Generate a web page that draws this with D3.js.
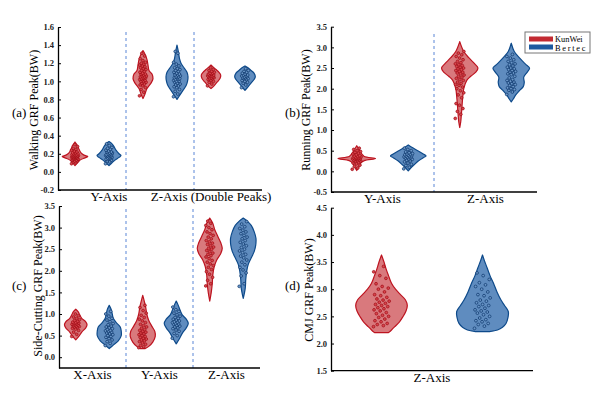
<!DOCTYPE html>
<html>
<head>
<meta charset="utf-8">
<script src="https://cdn.jsdelivr.net/npm/d3@7"></script>
<style>
  body { margin: 0; background: #fff; }
  svg { display: block; font-family: "Liberation Serif", "Times New Roman", serif; }
</style>
</head>
<body>
<div id="chart"></div>
<script>
/// DATA : violin outlines are [value, relative density], points are peak values (BW)
const seriesNames = ['KunWei', 'Bertec'];

// (a) walking
const walkTicks = [-0.2, 0, 0.2, 0.4, 0.6, 0.8, 1.0, 1.2, 1.4, 1.6];
const walkGroups = ['Y-Axis', 'Z-Axis (Double Peaks)'];
const walkRedYShape = [[0.07,0],[0.10,0.25],[0.13,0.5],[0.155,1.0],[0.17,1.28],[0.185,0.9],[0.21,0.6],[0.25,0.4],[0.29,0.25],[0.33,0]];
const walkBlueYShape = [[0.07,0],[0.10,0.3],[0.13,0.6],[0.16,1.0],[0.18,1.2],[0.20,1.0],[0.24,0.7],[0.28,0.5],[0.31,0.3],[0.335,0]];
const walkRedZ1Shape = [[0.81,0],[0.86,0.2],[0.92,0.4],[0.98,0.8],[1.03,1.0],[1.08,0.9],[1.12,0.6],[1.18,0.5],[1.24,0.4],[1.30,0.2],[1.34,0]];
const walkBlueZ1Shape = [[0.80,0],[0.85,0.3],[0.90,0.6],[0.95,0.9],[1.00,1.05],[1.05,1.1],[1.10,1.0],[1.15,0.7],[1.20,0.4],[1.25,0.25],[1.32,0.15],[1.40,0]];
const walkRedZ2Shape = [[0.92,0],[0.95,0.3],[0.99,0.6],[1.03,0.9],[1.07,0.97],[1.10,0.8],[1.13,0.5],[1.16,0.2],[1.18,0]];
const walkBlueZ2Shape = [[0.90,0],[0.94,0.3],[0.98,0.6],[1.02,0.9],[1.05,1.03],[1.09,0.9],[1.12,0.6],[1.15,0.3],[1.17,0]];
const walkRedY = [0.09,0.10,0.11,0.12,0.12,0.13,0.13,0.14,0.14,0.15,0.15,0.15,0.16,0.16,0.16,0.16,0.17,0.17,0.17,0.17,0.17,0.18,0.18,0.18,0.18,0.19,0.19,0.19,0.20,0.20,0.21,0.21,0.22,0.23,0.24,0.25,0.26,0.28,0.30];
const walkBlueY = [0.09,0.11,0.12,0.13,0.14,0.14,0.15,0.15,0.16,0.16,0.17,0.17,0.17,0.18,0.18,0.18,0.19,0.19,0.19,0.20,0.20,0.21,0.21,0.22,0.22,0.23,0.24,0.25,0.26,0.27,0.29,0.31];
const walkRedZ1 = [0.84,0.88,0.91,0.93,0.95,0.96,0.97,0.98,0.99,1.00,1.00,1.01,1.02,1.02,1.03,1.03,1.04,1.04,1.05,1.05,1.06,1.06,1.07,1.08,1.08,1.09,1.10,1.11,1.12,1.13,1.14,1.15,1.16,1.17,1.18,1.19,1.20,1.21,1.23,1.25,1.28,1.31];
const walkBlueZ1 = [0.83,0.86,0.89,0.91,0.93,0.94,0.95,0.96,0.97,0.98,0.99,1.00,1.00,1.01,1.02,1.02,1.03,1.04,1.04,1.05,1.05,1.06,1.07,1.07,1.08,1.09,1.10,1.11,1.12,1.13,1.14,1.15,1.17,1.19,1.21,1.31,1.33];
const walkRedZ2 = [0.95,0.97,0.99,1.00,1.01,1.02,1.03,1.03,1.04,1.04,1.05,1.05,1.06,1.06,1.06,1.07,1.07,1.08,1.08,1.09,1.09,1.10,1.11,1.12,1.13,1.15];
const walkBlueZ2 = [0.93,0.96,0.98,0.99,1.00,1.01,1.02,1.03,1.03,1.04,1.04,1.05,1.05,1.06,1.06,1.07,1.07,1.08,1.09,1.10,1.11,1.12,1.14];

// (b) running
const runTicks = [-0.5, 0, 0.5, 1.0, 1.5, 2.0, 2.5, 3.0, 3.5];
const runGroups = ['Y-Axis', 'Z-Axis'];
const runRedYShape = [[0.02,0],[0.1,0.2],[0.2,0.4],[0.26,0.75],[0.31,1.88],[0.36,0.75],[0.42,0.5],[0.5,0.3],[0.62,0]];
const runBlueYShape = [[0.01,0],[0.08,0.25],[0.15,0.55],[0.25,1.0],[0.33,1.5],[0.37,1.78],[0.42,1.5],[0.5,0.95],[0.57,0.45],[0.64,0]];
const runRedZShape = [[1.06,0],[1.2,0.1],[1.5,0.2],[1.8,0.3],[2.0,0.4],[2.2,0.7],[2.3,1.1],[2.4,1.6],[2.5,1.82],[2.6,1.5],[2.75,0.9],[2.9,0.4],[3.14,0]];
const runBlueZShape = [[1.68,0],[1.75,0.2],[1.85,0.45],[1.95,0.8],[2.05,1.2],[2.15,1.3],[2.28,1.25],[2.4,1.6],[2.5,1.83],[2.6,1.4],[2.75,0.8],[2.9,0.3],[3.10,0]];
const runRedY = [0.05,0.08,0.12,0.15,0.18,0.2,0.22,0.24,0.25,0.26,0.27,0.28,0.29,0.3,0.3,0.31,0.31,0.32,0.33,0.33,0.34,0.35,0.36,0.37,0.38,0.4,0.42,0.44,0.46,0.48,0.5,0.53,0.56];
const runBlueY = [0.06,0.1,0.14,0.17,0.2,0.23,0.25,0.27,0.29,0.3,0.32,0.33,0.34,0.35,0.36,0.37,0.38,0.39,0.4,0.41,0.42,0.43,0.45,0.47,0.5,0.53,0.56];
const runRedZ = [1.28,1.38,1.45,1.52,1.6,1.64,1.78,1.85,1.9,1.95,2.0,2.04,2.08,2.1,2.13,2.16,2.2,2.22,2.25,2.28,2.3,2.33,2.36,2.38,2.4,2.42,2.44,2.46,2.48,2.5,2.52,2.54,2.56,2.58,2.6,2.63,2.66,2.7,2.74,2.78,2.82,2.86,2.9];
const runBlueZ = [1.86,1.92,1.96,1.98,2.0,2.02,2.05,2.08,2.1,2.12,2.14,2.16,2.18,2.2,2.22,2.26,2.3,2.34,2.36,2.38,2.4,2.42,2.44,2.46,2.48,2.5,2.52,2.55,2.58,2.6,2.63,2.66,2.7,2.74,2.78,2.83];

// (c) side-cutting
const cutTicks = [0, 0.5, 1.0, 1.5, 2.0, 2.5, 3.0, 3.5];
const cutGroups = ['X-Axis', 'Y-Axis', 'Z-Axis'];
const cutRedXShape = [[0.40,0],[0.48,0.3],[0.58,0.6],[0.68,1.0],[0.75,1.13],[0.82,1.0],[0.9,0.6],[0.98,0.4],[1.05,0.25],[1.11,0]];
const cutBlueXShape = [[0.2,0],[0.28,0.4],[0.38,0.9],[0.5,1.2],[0.6,1.2],[0.7,1.1],[0.8,0.7],[0.9,0.4],[1.0,0.3],[1.1,0.2],[1.2,0]];
const cutRedYShape = [[0.2,0.25],[0.25,0.6],[0.35,1.0],[0.48,1.25],[0.6,1.2],[0.72,0.9],[0.85,0.6],[1.0,0.4],[1.15,0.3],[1.3,0.15],[1.43,0]];
const cutBlueYShape = [[0.31,0],[0.42,0.3],[0.55,0.6],[0.68,1.0],[0.78,1.2],[0.88,1.0],[0.98,0.6],[1.08,0.4],[1.2,0.2],[1.3,0]];
const cutRedZShape = [[1.3,0],[1.5,0.15],[1.7,0.25],[1.9,0.3],[2.1,0.45],[2.25,0.7],[2.4,1.1],[2.52,1.25],[2.65,1.1],[2.8,0.8],[2.95,0.5],[3.1,0.3],[3.22,0]];
const cutBlueZShape = [[1.36,0],[1.6,0.2],[1.8,0.25],[2.0,0.35],[2.15,0.5],[2.3,0.8],[2.45,1.1],[2.6,1.25],[2.75,1.27],[2.9,1.1],[3.05,0.8],[3.15,0.4],[3.22,0]];
const cutRedX = [0.48,0.53,0.58,0.62,0.65,0.67,0.69,0.7,0.71,0.72,0.73,0.74,0.75,0.76,0.77,0.78,0.79,0.8,0.81,0.83,0.85,0.87,0.9,0.93,0.96,1.0];
const cutBlueX = [0.27,0.32,0.36,0.4,0.43,0.46,0.48,0.5,0.52,0.54,0.56,0.58,0.6,0.61,0.62,0.64,0.66,0.68,0.7,0.72,0.75,0.78,0.82,0.86,0.9,0.95,1.0,1.06];
const cutRedY = [0.22,0.24,0.27,0.3,0.33,0.36,0.38,0.4,0.42,0.44,0.46,0.48,0.5,0.52,0.54,0.56,0.58,0.6,0.62,0.64,0.67,0.7,0.73,0.76,0.8,0.84,0.88,0.92,0.97,1.02,1.08,1.15,1.2];
const cutBlueY = [0.44,0.5,0.55,0.6,0.63,0.66,0.68,0.7,0.72,0.74,0.76,0.77,0.78,0.8,0.81,0.82,0.84,0.86,0.88,0.9,0.92,0.95,0.98,1.02,1.06,1.1,1.16];
const cutRedZ = [1.65,1.7,1.78,1.85,1.92,1.98,2.03,2.08,2.12,2.16,2.2,2.24,2.28,2.32,2.35,2.38,2.41,2.44,2.47,2.5,2.52,2.55,2.58,2.61,2.64,2.67,2.7,2.74,2.78,2.82,2.86,2.9,2.95,3.0,3.05,3.1,3.15];
const cutBlueZ = [1.64,1.7,1.88,1.95,2.02,2.08,2.14,2.2,2.25,2.3,2.34,2.38,2.42,2.46,2.5,2.54,2.58,2.62,2.66,2.7,2.74,2.78,2.82,2.86,2.9,2.94,2.98,3.02,3.08,3.14];

// (d) CMJ
const cmjTicks = [1.5, 2.0, 2.5, 3.0, 3.5, 4.0, 4.5];
const cmjGroups = ['Z-Axis'];
const cmjRedShape = [[2.2,0.7],[2.25,1.0],[2.31,1.33],[2.4,1.8],[2.49,2.13],[2.6,2.45],[2.7,2.58],[2.8,2.4],[2.9,1.9],[3.0,1.4],[3.11,1.0],[3.25,0.7],[3.35,0.5],[3.5,0.25],[3.63,0]];
const cmjBlueShape = [[2.22,0.7],[2.25,1.5],[2.3,2.0],[2.37,2.35],[2.48,2.55],[2.59,2.58],[2.7,2.2],[2.8,1.85],[2.95,1.45],[3.11,1.1],[3.25,0.75],[3.4,0.45],[3.52,0.2],[3.63,0]];
const cmjRed = [2.31,2.33,2.35,2.37,2.4,2.42,2.45,2.48,2.5,2.52,2.55,2.57,2.6,2.62,2.64,2.66,2.68,2.7,2.72,2.74,2.76,2.78,2.8,2.82,2.85,2.88,2.9,2.95,3.0,3.02,3.05,3.1,3.2,3.25,3.32,3.42];
const cmjBlue = [2.28,2.32,2.35,2.37,2.4,2.42,2.44,2.47,2.5,2.53,2.56,2.58,2.6,2.62,2.65,2.68,2.7,2.72,2.75,2.78,2.8,2.84,2.88,2.9,2.95,3.0,3.05,3.08,3.12,3.18,3.25,3.3];

/// STYLE
const colors = {
  red:  { fill: '#d9797d', stroke: '#bd1420', dot: '#d8454c', dotStroke: '#9e0a14', key: '#c22a32' },
  blue: { fill: '#5f8cbf', stroke: '#0e4a8a', dot: '#6b97c8', dotStroke: '#0a3468', key: '#1d5aa0' }
};

const svg = d3.select('#chart')
  .append('svg')
  .attr('width', 605)
  .attr('height', 397);

// deterministic spread of points around the violin centre (golden ratio sequence)
const spread = i => ((i * 0.6180339887) % 1) * 2 - 1;

function drawPanel(p) {
  let x = d3.scaleLinear().domain([0, p.violins.length]).range([p.left, p.right]);
  let y = d3.scaleLinear().domain(p.domain).range([p.bottom, p.top]);
  let w = d3.scaleLinear().domain([0, 1]).range([0, 10]);
  let g = svg.append('g');

  /// separators
  p.seps.forEach(s => {
    g.append('line')
      .attr('x1', x(s)).attr('x2', x(s))
      .attr('y1', p.dashTop).attr('y2', p.bottom)
      .attr('stroke', '#5a86d6')
      .attr('stroke-width', 1)
      .attr('stroke-dasharray', '3,3');
  });

  /// violins + points
  p.violins.forEach((v, i) => {
    let cx = x(i + 0.5);
    let c = i % 2 === 0 ? colors.red : colors.blue;
    let area = d3.area()
      .y(d => y(d[0]))
      .x0(d => cx - w(d[1]))
      .x1(d => cx + w(d[1]))
      .curve(d3.curveCatmullRom.alpha(0.5));
    g.append('path')
      .datum(v.shape)
      .attr('d', area)
      .attr('fill', c.fill)
      .attr('stroke', c.stroke)
      .attr('stroke-width', 1.2)
      .attr('stroke-linejoin', 'round');
    g.append('g')
      .selectAll('circle')
      .data(v.pts)
      .join('circle')
      .attr('cx', (d, j) => cx + spread(j) * p.jitter)
      .attr('cy', d => y(d))
      .attr('r', 1.4)
      .attr('fill', c.dot)
      .attr('stroke', c.dotStroke)
      .attr('stroke-width', 0.7);
  });

  /// axes
  let ax = g.append('g')
    .attr('transform', `translate(${p.left},0)`)
    .call(d3.axisLeft(y)
      .tickValues(p.ticks)
      .tickFormat(d => d.toFixed(1))
      .tickSizeInner(-3)
      .tickSizeOuter(0)
      .tickPadding(4));
  ax.select('.domain').attr('stroke-width', 1.3);
  ax.selectAll('text')
    .attr('font-family', '"Liberation Serif", serif')
    .attr('font-size', 8.5)
    .attr('font-weight', 'bold')
    .attr('fill', '#222');

  g.append('line')
    .attr('x1', p.left).attr('x2', p.right)
    .attr('y1', p.bottom).attr('y2', p.bottom)
    .attr('stroke', '#000')
    .attr('stroke-width', 1.3);

  /// group labels
  p.groups.forEach((lab, k) => {
    let span = p.violins.length / p.groups.length;
    g.append('text')
      .attr('x', x(k * span + span / 2))
      .attr('y', p.labelY)
      .attr('text-anchor', 'middle')
      .attr('font-size', 13)
      .text(lab);
  });

  /// y title + panel letter
  g.append('text')
    .attr('transform', `translate(${p.titleX},${p.titleY}) rotate(-90)`)
    .attr('text-anchor', 'middle')
    .attr('font-size', 12)
    .text(p.title);
  g.append('text')
    .attr('x', p.letterX)
    .attr('y', p.letterY)
    .attr('font-size', 13)
    .text(p.letter);
}

drawPanel({
  left: 58, right: 262, top: 27, bottom: 190, domain: [-0.2, 1.6], ticks: walkTicks,
  violins: [
    { shape: walkRedYShape, pts: walkRedY }, { shape: walkBlueYShape, pts: walkBlueY },
    { shape: walkRedZ1Shape, pts: walkRedZ1 }, { shape: walkBlueZ1Shape, pts: walkBlueZ1 },
    { shape: walkRedZ2Shape, pts: walkRedZ2 }, { shape: walkBlueZ2Shape, pts: walkBlueZ2 }
  ],
  groups: walkGroups, seps: [2, 4], dashTop: 32, jitter: 3.5, labelY: 201,
  title: 'Walking GRF Peak(BW)', titleX: 38, titleY: 110, letter: '(a)', letterX: 12, letterY: 117
});

drawPanel({
  left: 331, right: 537, top: 26.7, bottom: 192, domain: [-0.5, 3.5], ticks: runTicks,
  violins: [
    { shape: runRedYShape, pts: runRedY }, { shape: runBlueYShape, pts: runBlueY },
    { shape: runRedZShape, pts: runRedZ }, { shape: runBlueZShape, pts: runBlueZ }
  ],
  groups: runGroups, seps: [2], dashTop: 34, jitter: 4.5, labelY: 203,
  title: 'Running GRF Peak(BW)', titleX: 310, titleY: 110, letter: '(b)', letterX: 285, letterY: 117
});

drawPanel({
  left: 59, right: 260, top: 206, bottom: 368, domain: [-0.25, 3.5], ticks: cutTicks,
  violins: [
    { shape: cutRedXShape, pts: cutRedX }, { shape: cutBlueXShape, pts: cutBlueX },
    { shape: cutRedYShape, pts: cutRedY }, { shape: cutBlueYShape, pts: cutBlueY },
    { shape: cutRedZShape, pts: cutRedZ }, { shape: cutBlueZShape, pts: cutBlueZ }
  ],
  groups: cutGroups, seps: [2, 4], dashTop: 209, jitter: 4, labelY: 379,
  title: 'Side-Cutting GRF Peak(BW)', titleX: 42, titleY: 286, letter: '(c)', letterX: 12, letterY: 290
});

drawPanel({
  left: 331, right: 533, top: 207.7, bottom: 370.7, domain: [1.5, 4.5], ticks: cmjTicks,
  violins: [
    { shape: cmjRedShape, pts: cmjRed }, { shape: cmjBlueShape, pts: cmjBlue }
  ],
  groups: cmjGroups, seps: [], dashTop: 208, jitter: 8, labelY: 382,
  title: 'CMJ GRF Peak(BW)', titleX: 313, titleY: 290, letter: '(d)', letterX: 285, letterY: 290
});

/// LEGEND
let legend = svg.append('g').attr('transform', 'translate(525,32)');
legend.append('rect')
  .attr('width', 65).attr('height', 21)
  .attr('fill', '#fff').attr('stroke', '#777').attr('stroke-width', 1);
seriesNames.forEach((name, i) => {
  let c = i === 0 ? colors.red : colors.blue;
  legend.append('rect')
    .attr('x', 4).attr('y', 4.5 + i * 8)
    .attr('width', 24).attr('height', 5)
    .attr('fill', c.key);
  legend.append('text')
    .attr('x', 30).attr('y', 10 + i * 8.6)
    .attr('font-size', 8.4)
    .attr('letter-spacing', i === 0 ? 0 : 1.7)
    .text(name);
});
</script>
</body>
</html>
